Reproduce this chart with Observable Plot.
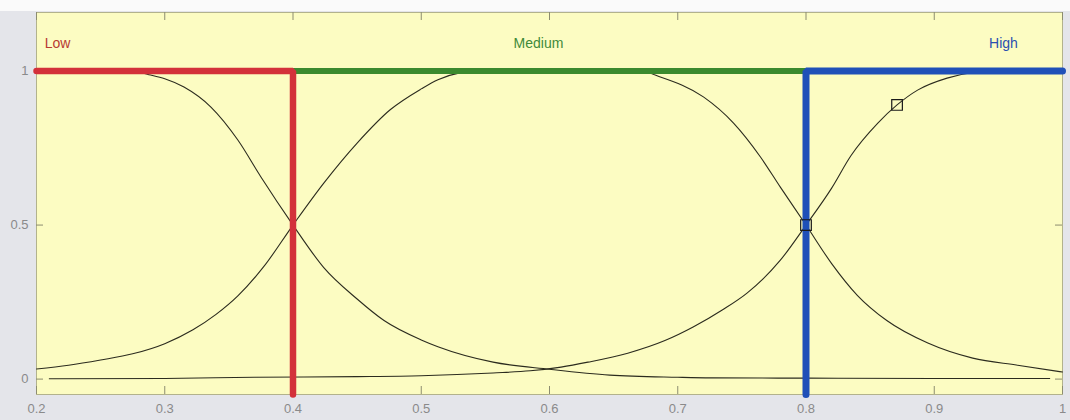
<!DOCTYPE html>
<html>
<head>
<meta charset="utf-8">
<script src="https://cdn.jsdelivr.net/npm/d3@7"></script>
<script src="https://cdn.jsdelivr.net/npm/@observablehq/plot@0.6"></script>
<style>
  html, body { margin: 0; padding: 0; background: #f4f4f6; overflow: hidden; }
  #chart svg { display: block; }
</style>
</head>
<body>
<div id="chart"></div>
<script>
// ---- data ----
const xTicks = [0.2, 0.3, 0.4, 0.5, 0.6, 0.7, 0.8, 0.9, 1];
const yTicks = [0, 0.5, 1];
const xDomain = [0.2, 1];
const yDomain = [-0.05, 1.19];

// fuzzy membership curves (black)
const lowX  = [0.20, 0.25, 0.276, 0.289, 0.30, 0.315, 0.336, 0.357, 0.375, 0.40, 0.424, 0.45, 0.471, 0.50, 0.513, 0.556, 0.60, 0.647, 0.70, 0.726, 0.80, 0.90, 0.99];
const lowY  = [1.00, 1.00, 0.998, 0.987, 0.975, 0.948, 0.883, 0.776, 0.656, 0.50, 0.362, 0.26, 0.19, 0.127, 0.105, 0.055, 0.032, 0.013, 0.006, 0.004, 0.003, 0.002, 0.002];

const medX  = [0.20, 0.225, 0.25, 0.275, 0.30, 0.322, 0.34, 0.357, 0.377, 0.40, 0.424, 0.45, 0.476, 0.50, 0.513, 0.53, 0.545, 0.67, 0.687, 0.72, 0.7435, 0.7645, 0.78, 0.80, 0.82, 0.84, 0.863, 0.895, 0.93, 0.965, 1.0];
const medY  = [0.033, 0.045, 0.062, 0.082, 0.115, 0.16, 0.21, 0.27, 0.364, 0.50, 0.636, 0.766, 0.875, 0.942, 0.972, 0.994, 1.00, 1.00, 0.98, 0.916, 0.831, 0.721, 0.623, 0.50, 0.375, 0.272, 0.19, 0.117, 0.068, 0.045, 0.023];

const highX = [0.21, 0.30, 0.37, 0.45, 0.50, 0.556, 0.585, 0.609, 0.63, 0.661, 0.69, 0.712, 0.735, 0.754, 0.78, 0.80, 0.82, 0.835, 0.856, 0.871, 0.887, 0.91, 0.93, 0.945, 1.0];
const highY = [0.001, 0.002, 0.006, 0.008, 0.011, 0.02, 0.027, 0.039, 0.055, 0.084, 0.125, 0.169, 0.225, 0.279, 0.386, 0.50, 0.62, 0.725, 0.831, 0.89, 0.938, 0.977, 0.995, 1.00, 1.00];

// crisp sets (coloured)
const crispLowX  = [0.2, 0.4, 0.4];
const crispLowY  = [1, 1, -0.05];
const crispMedX  = [0.4, 0.8];
const crispMedY  = [1, 1];
const crispHighX = [0.8, 0.8, 1];
const crispHighY = [-0.05, 1, 1];

// square markers
const markerX = [0.8, 0.871];
const markerY = [0.5, 0.89];

// set labels
const labelText = ["Low", "Medium", "High"];
const labelX = [0.2164, 0.5914, 0.954];
const labelY = [1.09, 1.09, 1.09];
const labelColor = ["#b83a32", "#3f8a3a", "#2a4fb0"];
const labelAnchor = ["start", "middle", "middle"];

// ---- build tables ----
const toPts = (xs, ys) => xs.map((x, i) => ({x, y: ys[i]}));
const labels = labelText.map((t, i) => ({t, x: labelX[i], y: labelY[i], c: labelColor[i], a: labelAnchor[i]}));

const curveStyle = {x: "x", y: "y", stroke: "#2b2b1e", strokeWidth: 1.1, curve: "monotone-x"};

const chart = Plot.plot({
  width: 1070,
  height: 420,
  marginLeft: 36,
  marginRight: 8,
  marginTop: 12,
  marginBottom: 26,
  style: {
    background: "linear-gradient(to bottom, #fafafa 0px, #fafafa 11px, #e4e5ea 11px)",
    fontFamily: "'Liberation Sans', Arial, sans-serif",
    fontSize: "13px"
  },
  x: {domain: xDomain, label: null},
  y: {domain: yDomain, label: null},
  marks: [
    Plot.frame({fill: "#fcfcc2", stroke: "#b2b28c", strokeWidth: 1}),
    // inward tick marks
    Plot.ruleX(xTicks, {x: d => d, insetTop: 374, stroke: "#8c8c70"}),
    Plot.ruleX(xTicks, {x: d => d, insetBottom: 374, stroke: "#8c8c70"}),
    Plot.ruleY(yTicks, {y: d => d, insetRight: 1019, stroke: "#8c8c70"}),
    Plot.ruleY(yTicks, {y: d => d, insetLeft: 1019, stroke: "#8c8c70"}),
    Plot.axisX({ticks: xTicks, tickSize: 0, tickPadding: 9, fill: "#8a8a8a", tickFormat: d => String(d), fontSize: 13, label: null}),
    Plot.axisY({ticks: yTicks, tickSize: 0, tickPadding: 8, fill: "#8a8a8a", tickFormat: d => String(d), fontSize: 13, label: null}),
    // membership curves
    Plot.line(toPts(lowX, lowY), curveStyle),
    Plot.line(toPts(medX, medY), curveStyle),
    Plot.line(toPts(highX, highY), curveStyle),
    // crisp sets
    Plot.line(toPts(crispMedX, crispMedY), {x: "x", y: "y", stroke: "#3b8a2e", strokeWidth: 6}),
    Plot.line(toPts(crispLowX, crispLowY), {x: "x", y: "y", stroke: "#d3313a", strokeWidth: 6.5, strokeLinejoin: "miter"}),
    Plot.line(toPts(crispHighX, crispHighY), {x: "x", y: "y", stroke: "#1f50b8", strokeWidth: 7, strokeLinejoin: "miter"}),
    // markers
    Plot.dot(toPts(markerX, markerY), {x: "x", y: "y", symbol: "square", r: 6, fill: "none", stroke: "#1a1a1a", strokeWidth: 1.2}),
    // labels
    Plot.text(labels, {x: "x", y: "y", text: "t", fill: "c", textAnchor: "a", fontSize: 14})
  ]
});
document.getElementById("chart").appendChild(chart);
</script>
</body>
</html>
